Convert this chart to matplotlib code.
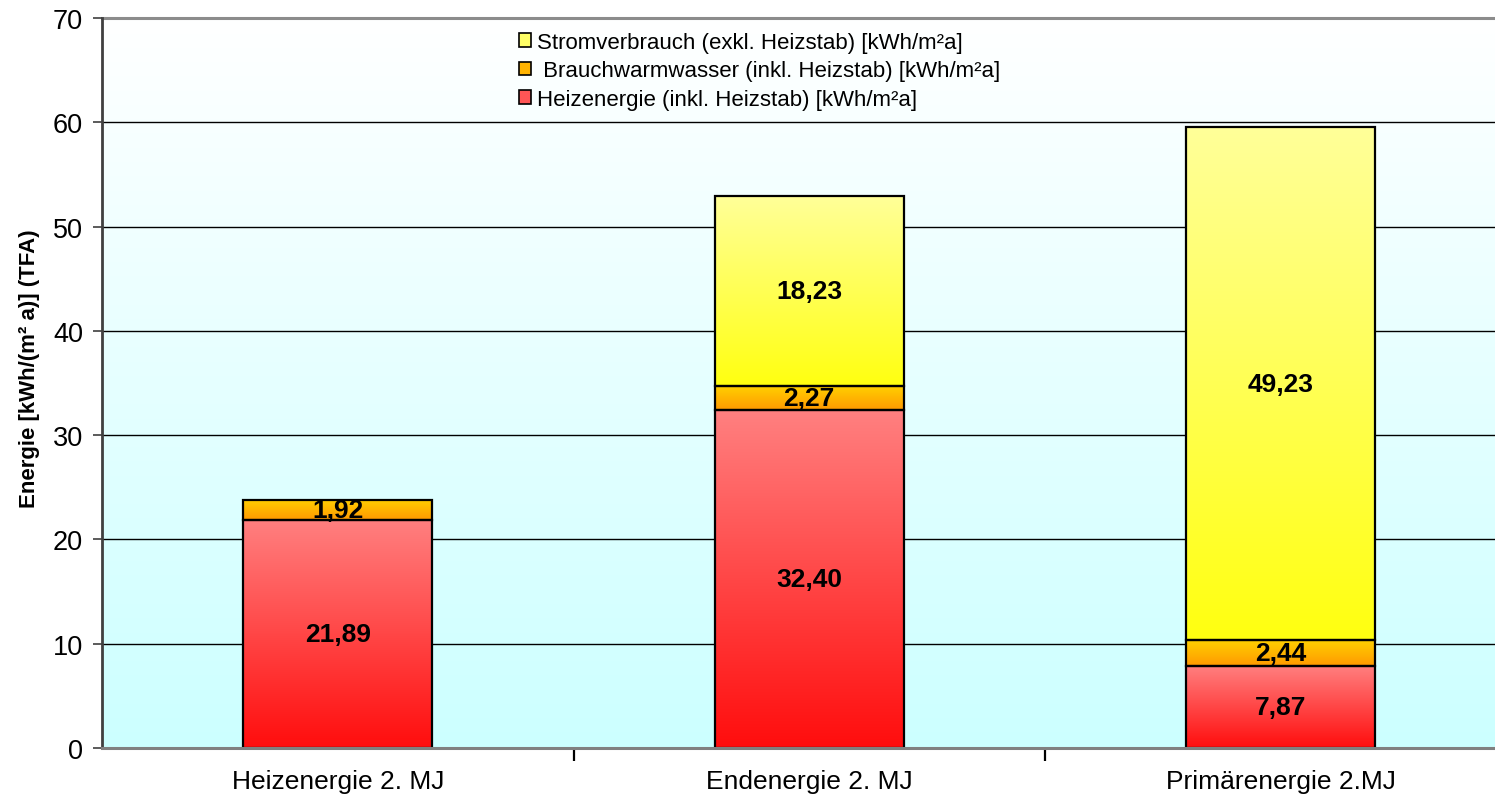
import numpy as np
import matplotlib
matplotlib.use("Agg")
import matplotlib.pyplot as plt
from matplotlib.colors import LinearSegmentedColormap
from matplotlib.patches import Patch

plt.rcParams['font.family'] = ['Liberation Sans', 'DejaVu Sans']

categories = ["Heizenergie 2. MJ", "Endenergie 2. MJ", "Primärenergie 2.MJ"]
heiz = [21.89, 32.40, 7.87]
bww = [1.92, 2.27, 2.44]
strom = [0.0, 18.23, 49.23]
series_labels = ["Heizenergie (inkl. Heizstab) [kWh/m²a]",
                 " Brauchwarmwasser (inkl. Heizstab) [kWh/m²a]",
                 "Stromverbrauch (exkl. Heizstab) [kWh/m²a]"]
yticks = [0, 10, 20, 30, 40, 50, 60, 70]

grad_colors = [("#FF0D0D", "#FF8080"),   # red bottom/top
               ("#FF9900", "#FFD000"),   # orange
               ("#FFFF10", "#FFFF99")]   # yellow
legend_colors = ["#FF5555", "#FFB300", "#FFFF66"]

fig = plt.figure(figsize=(14.95, 8.04), dpi=100)
W, H = 1495, 804
ax = fig.add_axes([102 / W, (H - 749) / H, 1414.5 / W, 730 / H])

# background gradient
bg = np.linspace(0, 1, 256).reshape(-1, 1)
bg_cmap = LinearSegmentedColormap.from_list("bg", ["#CCFFFF", "#FFFFFF"])
ax.imshow(bg, cmap=bg_cmap, origin='lower', extent=(0, 1, 0, 1),
          transform=ax.transAxes, aspect='auto', zorder=0)

x = np.arange(len(categories))
bottoms = np.zeros(len(categories))
series = [heiz, bww, strom]
for s_i, vals in enumerate(series):
    vals = np.array(vals)
    cmap = LinearSegmentedColormap.from_list(f"g{s_i}", list(grad_colors[s_i]))
    bars = ax.bar(x, vals, 0.4, bottom=bottoms, facecolor='none',
                  edgecolor='black', linewidth=1.6, zorder=3)
    for b, v in zip(bars, vals):
        if v <= 0:
            b.set_visible(False)
            continue
        x0, y0, w, h = b.get_x(), b.get_y(), b.get_width(), b.get_height()
        im = ax.imshow(bg, cmap=cmap, origin='lower',
                       extent=(x0, x0 + w, y0, y0 + h), aspect='auto', zorder=2)
        im.set_clip_path(b)
        ax.text(x0 + w / 2, y0 + h / 2, f"{v:.2f}".replace('.', ','),
                ha='center', va='center', fontsize=19, fontweight='bold',
                color='black', zorder=4)
    bottoms = bottoms + vals

ax.set_xlim(-0.5, len(categories) - 0.5)
ax.set_ylim(0, 70)
ax.set_aspect('auto')

# grid lines
for yv in yticks[1:-1]:
    ax.axhline(yv, color='black', linewidth=1.0, zorder=1)
ax.axhline(70, color='#8C8C8C', linewidth=2.2, zorder=1, clip_on=False)

ax.set_yticks(yticks)
ax.set_yticklabels([str(t) for t in yticks], fontsize=19.5)
ax.tick_params(axis='y', direction='out', length=6.5, width=1.2, pad=7, colors='#404040', labelcolor='black')

ax.set_xticks(x)
ax.set_xticklabels(categories, fontsize=19)
ax.tick_params(axis='x', which='major', length=0, pad=15)
ax.set_xticks(np.arange(0.5, len(categories) - 0.5, 1.0), minor=True)
ax.tick_params(axis='x', which='minor', direction='out', length=9, width=1.6, color='black')

for side in ['top', 'right']:
    ax.spines[side].set_visible(False)
ax.spines['left'].set_color('#404040')
ax.spines['left'].set_linewidth(2.0)
ax.spines['bottom'].set_color('#808080')
ax.spines['bottom'].set_linewidth(2.2)
ax.spines['bottom'].set_zorder(5)

fig.text(30 / W, 1 - 369 / H, "Energie [kWh/(m² a)] (TFA)", rotation=90,
         ha='center', va='center', fontsize=16, fontweight='bold')

handles = [Patch(facecolor=legend_colors[i], edgecolor='black', linewidth=1.2)
           for i in [2, 1, 0]]
labels = [series_labels[i] for i in [2, 1, 0]]
fig.legend(handles, labels, loc='upper left', bbox_to_anchor=(519 / W, 1 - 33 / H),
           frameon=False, fontsize=16, handlelength=0.55, handleheight=0.55,
           handletextpad=0.25, labelspacing=0.33, borderpad=0, borderaxespad=0)

fig.savefig("out.png", dpi=100)
